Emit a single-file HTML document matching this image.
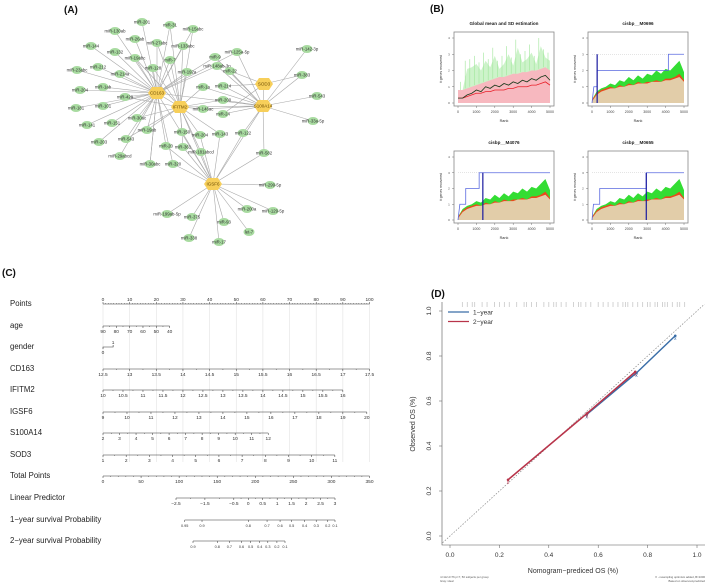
<!DOCTYPE html>
<html><head><meta charset="utf-8"><style>
html,body{margin:0;padding:0;background:#fff;}
svg{display:block;font-family:"Liberation Sans",sans-serif;}
</style></head><body>
<svg id="fig" width="709" height="584" viewBox="0 0 709 584" xmlns="http://www.w3.org/2000/svg">
<g id="pA"></g>
<g id="pB"></g>
<g id="pC"></g>
<g id="pD"></g>
</svg>
<script>
// ===== Panel A data =====
const hubNames=["CD163","IFITM2","SOD3","S100A14","IGSF6"];
const hubX=[157,180,264,263,213];
const hubY=[93,107,84,106,184];
const mirNames=["miR-130ab","miR-201","miR-31","miR-15abc","miR-26ab","miR-27abc","miR-133abc","miR-144","miR-132","miR-19abc","miR-7","miR-9","miR-125a-5p","miR-142-3p","miR-23abc","miR-212","miR-214a","miR-128","miR-192a","miR-148ab-3p","miR-22","miR-383","miR-204","miR-1ab","miR-1a","miR-214","miR-543","miR-429","miR-181","miR-101","miR-200","miR-146ac","miR-24","miR-33a-5p","miR-30ac","miR-141","miR-151","miR-19ab","miR-150","miR-204","miR-143","miR-122","miR-203","miR-543","miR-20","miR-361","miR-181abcd","miR-582","miR-29abcd","miR-30abc","miR-320","miR-299-5p","miR-199ab-5p","miR-375","miR-200a","miR-129-5p","miR-93","let-7","miR-338","miR-17"];
const mirX=[115,142,170,193,135,157,183,91,115,135,170,215,237,307,77,98,120,153,187,217,230,302,80,103,203,223,317,125,76,103,223,203,223,313,137,87,112,147,182,200,220,243,99,126,166,183,201,264,120,150,173,270,167,192,247,273,224,249,189,219];
const mirY=[31,22,25,29,39,43,46,46,52,58,60,57,52,49,70,67,74,68,72,66,71,75,90,87,87,86,96,97,108,106,100,109,114,121,118,125,123,130,132,135,134,133,142,139,146,147,152,153,156,164,164,185,214,217,209,211,222,232,238,242];
const mirHub=[0,0,0,0,0,0,0,0,0,0,0,3,3,3,0,0,0,0,1,3,3,3,0,0,1,2,3,0,0,0,1,1,3,3,0,0,0,1,4,1,4,4,0,0,4,1,4,4,0,0,4,4,4,4,4,4,4,4,4,4];
const mirHub2=[-1,-1,1,1,-1,1,1,-1,-1,1,1,0,0,-1,-1,-1,-1,1,0,0,2,2,-1,-1,3,3,-1,1,-1,-1,3,3,2,-1,1,-1,-1,0,1,4,1,3,-1,1,0,4,1,3,-1,0,0,-1,-1,-1,-1,-1,-1,-1,-1,-1];

// ===== Panel B data =====
const rankTicks=[0,1000,2000,3000,4000,5000];
const bRanks=[0,250,500,750,1000,1250,1500,1750,2000,2250,2500,2750,3000,3250,3500,3750,4000,4250,4500,4750,5000];
const s1Upper=[0.6,0.8,2.1,2.2,2.4,2.0,2.6,2.2,2.9,2.1,2.4,3.0,2.3,3.4,2.5,2.7,3.1,2.4,3.5,2.8,2.6];
const s1Mean=[0.3,0.3,0.5,0.6,0.8,0.7,1.0,0.9,1.1,1.0,1.2,1.1,1.3,1.2,1.4,1.3,1.5,1.4,1.6,1.7,1.4];
const s1Red=[0.3,0.3,0.4,0.5,0.6,0.6,0.7,0.7,0.8,0.8,0.8,0.9,0.9,1.0,1.0,1.0,1.1,1.1,1.2,1.3,1.1];
const s1Pink=[0.8,0.8,0.9,1.0,1.1,1.2,1.3,1.4,1.5,1.6,1.6,1.7,1.8,1.8,1.9,1.9,2.0,2.0,2.1,2.2,2.0];
const gGreen=[0.2,0.7,0.9,1.0,1.2,1.1,1.4,1.3,1.6,1.4,1.7,1.5,1.8,1.7,2.0,1.8,2.1,2.0,2.3,2.6,1.9];
const gRed=[0.2,0.6,0.8,0.9,1.0,0.9,1.1,1.0,1.2,1.1,1.3,1.2,1.3,1.3,1.4,1.3,1.5,1.5,1.6,1.8,1.4];
const gBeige=[0.1,0.5,0.7,0.8,0.9,0.9,1.0,1.0,1.1,1.1,1.2,1.2,1.2,1.3,1.3,1.3,1.4,1.4,1.5,1.6,1.3];
const stepM0696R=[0,100,280,280,4150,4150,5000];
const stepM0696V=[0,1,1,2,2,3,3];
const stepM4076R=[0,100,420,420,1150,1150,1350,1350,5000];
const stepM4076V=[0,1,1,2,2,3,3,3,3];
const stepM0655R=[0,80,420,420,2950,2950,5000];
const stepM0655V=[0,1,1,2,2,3,3];
const markM0696=280, markM4076=1350, markM0655=2950;

// ===== Panel C data =====
const nomoLabels=["Points","age","gender","CD163","IFITM2","IGSF6","S100A14","SOD3","Total Points","Linear Predictor","1\u2212year survival Probability","2\u2212year survival Probability"];
const pointsTicks=[0,10,20,30,40,50,60,70,80,90,100];
const ageTicks=[90,80,70,60,50,40];
const cd163Ticks=[12.5,13,13.5,14,14.5,15,15.5,16,16.5,17,17.5];
const ifitm2Ticks=[10,10.5,11,11.5,12,12.5,13,13.5,14,14.5,15,15.5,16];
const igsf6Ticks=[9,10,11,12,13,14,15,16,17,18,19,20];
const s100Ticks=[2,3,4,5,6,7,8,9,10,11,12];
const sod3Ticks=[1,2,3,4,5,6,7,8,9,10,11];
const totalTicks=[0,50,100,150,200,250,300,350];
const lpTicks=[-2.5,-1.5,-0.5,0,0.5,1,1.5,2,2.5,3];
const lpLabels=["\u22122.5","\u22121.5","\u22120.5","0","0.5","1","1.5","2","2.5","3"];
const surv1Ticks=[0.95,0.9,0.8,0.7,0.6,0.5,0.4,0.3,0.2,0.1];
const surv1Pts=[-2.2,-1.6,0.0,0.65,1.1,1.5,1.95,2.35,2.75,3.0];
const surv2Ticks=[0.9,0.8,0.7,0.6,0.5,0.4,0.3,0.2,0.1];
const surv2Pts=[-2.5,-1.3,-0.7,-0.1,0.35,0.8,1.2,1.65,2.05];

// ===== Panel D data =====
const calTicks=[0,0.2,0.4,0.6,0.8,1.0];
const oneYrPred=[0.553,0.755,0.912];
const oneYrObs=[0.54,0.725,0.89];
const twoYrPred=[0.235,0.555,0.75];
const twoYrObs=[0.25,0.545,0.73];
const rugVals=[0.05,0.07,0.09,0.1,0.13,0.15,0.18,0.2,0.22,0.24,0.27,0.3,0.31,0.33,0.35,0.38,0.4,0.42,0.43,0.45,0.47,0.5,0.52,0.53,0.55,0.57,0.6,0.62,0.64,0.66,0.68,0.7,0.71,0.72,0.74,0.76,0.78,0.8,0.81,0.83,0.84,0.86,0.87,0.88,0.9,0.92,0.93,0.95];

const NS="http://www.w3.org/2000/svg";
function mk(parent,tag,attrs,txt){const e=document.createElementNS(NS,tag);for(const k in attrs)e.setAttribute(k,attrs[k]);if(txt!==undefined)e.textContent=txt;parent.appendChild(e);return e;}

// ---------- Panel A ----------
const pA=document.getElementById('pA');
let t=mk(pA,'text',{x:64,y:13,'font-size':10,'font-weight':'bold',fill:'#111'},'(A)');


const edges=mk(pA,'g',{stroke:'#a8a8a8','stroke-width':0.6});


for(let i=0;i<mirNames.length;i++){
  const h=mirHub[i];
  let l=mk(edges,'line',{x1:mirX[i],y1:mirY[i],x2:hubX[h],y2:hubY[h]});
  
  
  const h2=mirHub2[i];
  if(h2>=0){let l2=mk(edges,'line',{x1:mirX[i],y1:mirY[i],x2:hubX[h2],y2:hubY[h2]});
  
  }
}
[[0,1],[0,3],[1,3],[1,4],[3,4],[2,3],[0,4]].forEach(p=>{let l=mk(edges,'line',{x1:hubX[p[0]],y1:hubY[p[0]],x2:hubX[p[1]],y2:hubY[p[1]]});

});
for(let i=0;i<mirNames.length;i++){
  const g=mk(pA,'g',{});
  
  
  mk(g,'ellipse',{cx:mirX[i],cy:mirY[i],rx:5.5,ry:4,fill:'#a8dba0'});
  mk(g,'text',{x:mirX[i],y:mirY[i]+1.5,'font-size':4.3,'text-anchor':'middle',fill:'#333'},mirNames[i]);
}
for(let i=0;i<hubNames.length;i++){
  const g=mk(pA,'g',{});
  
  
  const x=hubX[i],y=hubY[i];
  mk(g,'polygon',{points:`${x-9},${y} ${x-5},${y-6} ${x+5},${y-6} ${x+9},${y} ${x+5},${y+6} ${x-5},${y+6}`,fill:'#f7cf5a'});
  mk(g,'text',{x:x,y:y+1.6,'font-size':4.5,'text-anchor':'middle',fill:'#6b4a00'},hubNames[i]);
}

// ---------- Panel B ----------
const pB=document.getElementById('pB');
t=mk(pB,'text',{x:430,y:12,'font-size':10,'font-weight':'bold',fill:'#111'},'(B)');


function subplot(name,title,bx,by,bw,bh,kind,stepR,stepV,mark){
  const g=mk(pB,'g',{});
  
  
  const x0=bx+4,x1=bx+bw-4,y0=by+bh-3,y1=by+6;
  const sx=r=>x0+(x1-x0)*r/5000, sy=v=>y0-(y0-y1)*v/4;
  mk(g,'text',{x:bx+bw/2,y:by-7,'font-size':4.6,'font-weight':'bold','text-anchor':'middle',fill:'#222'},title);
  const pts=(arr)=>bRanks.map((r,i)=>sx(r)+','+sy(arr[i])).join(' ');
  const area=(arr,fill)=>mk(g,'polygon',{points:sx(0)+','+sy(0)+' '+pts(arr)+' '+sx(5000)+','+sy(0),fill:fill});
  if(kind===1){
    area(s1Upper,'#cdf3ca');
    bRanks.forEach((r,i)=>{if(i>0){mk(g,'line',{x1:sx(r)-2,y1:sy(s1Pink[i]),x2:sx(r)-2,y2:sy(s1Upper[i]+0.5),stroke:'#9fe69a','stroke-width':0.6});}});
    area(s1Pink,'#f7b8bf');
    mk(g,'polyline',{points:pts(s1Red),fill:'none',stroke:'#e8202a','stroke-width':0.8});
    mk(g,'polyline',{points:pts(s1Mean),fill:'none',stroke:'#1c3a1c','stroke-width':0.8});
  } else {
    area(gGreen,'#33dd33');
    area(gRed,'#e84a1c');
    area(gBeige,'#e2cda9');
    mk(g,'line',{x1:x0,y1:sy(3),x2:x1,y2:sy(3),stroke:'#bbb','stroke-width':0.4,'stroke-dasharray':'1,1'});
    mk(g,'polyline',{points:stepR.map((r,i)=>sx(r)+','+sy(stepV[i])).join(' '),fill:'none',stroke:'#5a6ae0','stroke-width':0.8});
    mk(g,'line',{x1:sx(mark),y1:sy(0),x2:sx(mark),y2:sy(stepV[stepV.length-1]),stroke:'#1a1aa0','stroke-width':1.2});
  }
  mk(g,'rect',{x:bx,y:by,width:bw,height:bh,fill:'none',stroke:'#888','stroke-width':0.8});
  rankTicks.forEach(r=>{mk(g,'line',{x1:sx(r),y1:by+bh,x2:sx(r),y2:by+bh+2,stroke:'#555','stroke-width':0.4});
    mk(g,'text',{x:sx(r),y:by+bh+7,'font-size':3.6,'text-anchor':'middle',fill:'#444'},String(r));});
  [0,1,2,3,4].forEach(v=>{mk(g,'line',{x1:bx,y1:sy(v),x2:bx-2,y2:sy(v),stroke:'#555','stroke-width':0.4});
    mk(g,'text',{x:bx-5,y:sy(v)+1,'font-size':3,'text-anchor':'middle',fill:'#444'},String(v));});
  mk(g,'text',{x:bx+bw/2,y:by+bh+16,'font-size':3.8,'text-anchor':'middle',fill:'#333'},'Rank');
  mk(g,'text',{x:0,y:0,'font-size':3.4,'text-anchor':'middle',fill:'#333',transform:`translate(${bx-12},${by+bh/2}) rotate(-90)`},'# genes recovered');
}
subplot('subplot-global-mean','Global mean and SD estimation',454,32,100,74,1);
subplot('subplot-m0696','cisbp__M0696',588,32,100,74,2,stepM0696R,stepM0696V,markM0696);
subplot('subplot-m4076','cisbp__M4076',454,151,100,72,2,stepM4076R,stepM4076V,markM4076);
subplot('subplot-m0655','cisbp__M0655',588,151,100,72,2,stepM0655R,stepM0655V,markM0655);

// ---------- Panel C ----------
const pC=document.getElementById('pC');
t=mk(pC,'text',{x:2,y:276,'font-size':10,'font-weight':'bold',fill:'#111'},'(C)');


const P0=103,P100=369.5;
const px=p=>P0+(P100-P0)*p/100;
const rowY=[304,326,347,369,390,412,433,455,476,498,520,541];
const grid=mk(pC,'g',{stroke:'#e2e2e2','stroke-width':0.6});


pointsTicks.forEach(p=>mk(grid,'line',{x1:px(p),y1:304,x2:px(p),y2:462}));
nomoLabels.forEach((s,i)=>{let e=mk(pC,'text',{x:10,y:rowY[i]+2,'font-size':7.8,fill:'#222'},s);

});
function scaleRow(name,i,ticks,labels,xf,minor){
  const g=mk(pC,'g',{});
  
  
  const y=rowY[i];
  const xs=ticks.map(xf);
  mk(g,'line',{x1:Math.min(...xs),y1:y,x2:Math.max(...xs),y2:y,stroke:'#333','stroke-width':0.6});
  xs.forEach((x,k)=>{mk(g,'line',{x1:x,y1:y,x2:x,y2:y+ (i===0?-2:2),stroke:'#333','stroke-width':0.5});
    mk(g,'text',{x:x,y:i===0?y-3:y+7,'font-size':(i>=10?3.8:4.8),'text-anchor':'middle',fill:'#333'},labels[k]);});
  if(minor){for(let k=0;k<xs.length-1;k++){for(let m=1;m<minor;m++){const x=xs[k]+(xs[k+1]-xs[k])*m/minor;mk(g,'line',{x1:x,y1:y,x2:x,y2:y+(i===0?-1:1),stroke:'#333','stroke-width':0.4});}}}
}
scaleRow('points-scale',0,pointsTicks,pointsTicks.map(String),px,10);
scaleRow('age-scale',1,ageTicks,ageTicks.map(String),v=>px((90-v)/50*25),2);
{const g=mk(pC,'g',{});


mk(g,'polyline',{points:`${px(0)},${rowY[2]+2} ${px(0)},${rowY[2]} ${px(3.8)},${rowY[2]} ${px(3.8)},${rowY[2]-2}`,fill:'none',stroke:'#333','stroke-width':0.6});
mk(g,'text',{x:px(3.8),y:rowY[2]-3,'font-size':4.8,'text-anchor':'middle',fill:'#333'},'1');
mk(g,'text',{x:px(0),y:rowY[2]+7,'font-size':4.8,'text-anchor':'middle',fill:'#333'},'0');}
scaleRow('cd163-scale',3,cd163Ticks,cd163Ticks.map(String),v=>px((v-12.5)/5*100),2);
scaleRow('ifitm2-scale',4,ifitm2Ticks,ifitm2Ticks.map(String),v=>px((v-10)/6*90),2);
scaleRow('igsf6-scale',5,igsf6Ticks,igsf6Ticks.map(String),v=>px((v-9)/10*90),2);
scaleRow('s100a14-scale',6,s100Ticks,s100Ticks.map(String),v=>px((v-2)/10*62),2);
scaleRow('sod3-scale',7,sod3Ticks,sod3Ticks.map(String),v=>px((v-1)/10*87),2);
scaleRow('total-points-scale',8,totalTicks,totalTicks.map(String),v=>P0+(P100-P0)*v/350,5);
const lpx=v=>176+(335-176)*(v+2.5)/5.5;
scaleRow('linear-predictor-scale',9,lpTicks,lpLabels,lpx,2);
scaleRow('survival-1yr-scale',10,surv1Pts,surv1Ticks.map(String),lpx,0);
scaleRow('survival-2yr-scale',11,surv2Pts,surv2Ticks.map(String),v=>193+(285-193)*(v+2.5)/4.55,0);

// ---------- Panel D ----------
const pD=document.getElementById('pD');
t=mk(pD,'text',{x:431,y:297,'font-size':10,'font-weight':'bold',fill:'#111'},'(D)');


const dx=v=>450+(697-450)*v, dy=v=>536-(536-311)*v;
const ax=mk(pD,'g',{});


mk(ax,'polyline',{points:`442,302 442,545 705,545`,fill:'none',stroke:'#555','stroke-width':0.6});
calTicks.forEach(v=>{
  mk(ax,'line',{x1:dx(v),y1:545,x2:dx(v),y2:548,stroke:'#555','stroke-width':0.5});
  mk(ax,'text',{x:dx(v),y:557,'font-size':6.5,'text-anchor':'middle',fill:'#333'},v.toFixed(1));
  mk(ax,'line',{x1:442,y1:dy(v),x2:439,y2:dy(v),stroke:'#555','stroke-width':0.5});
  mk(ax,'text',{x:0,y:0,'font-size':6.5,'text-anchor':'middle',fill:'#333',transform:`translate(431,${dy(v)}) rotate(-90)`},v.toFixed(1));
});
t=mk(pD,'text',{x:573,y:573,'font-size':7,'text-anchor':'middle',fill:'#333'},'Nomogram\u2212prediced OS (%)');


t=mk(pD,'text',{x:0,y:0,'font-size':7,'text-anchor':'middle',fill:'#333',transform:'translate(415,424) rotate(-90)'},'Observed OS (%)');


mk(pD,'line',{x1:dx(-0.03),y1:dy(-0.03),x2:dx(1.03),y2:dy(1.03),stroke:'#888','stroke-width':0.7,'stroke-dasharray':'1.5,1.5'});
const rug=mk(pD,'g',{stroke:'#c8c8c8','stroke-width':0.8});


rugVals.forEach(v=>mk(rug,'line',{x1:dx(v),y1:302,x2:dx(v),y2:307}));
function series(name,pr,ob,col){
  const g=mk(pD,'g',{});
  
  
  mk(g,'polyline',{points:pr.map((p,i)=>dx(p)+','+dy(ob[i])).join(' '),fill:'none',stroke:col,'stroke-width':1.5});
  pr.forEach((p,i)=>{const x=dx(p),y=dy(ob[i]);
    mk(g,'circle',{cx:x,cy:y,r:1.3,fill:col});
    mk(g,'text',{x:x,y:y+4,'font-size':5,'text-anchor':'middle',fill:col},'x');});
}
series('series-1-year',oneYrPred,oneYrObs,'#3a6ea8');
series('series-2-year',twoYrPred,twoYrObs,'#b8344a');
const lg=mk(pD,'g',{});


mk(lg,'line',{x1:448,y1:312,x2:469,y2:312,stroke:'#3a6ea8','stroke-width':1.2});
mk(lg,'text',{x:473,y:314.5,'font-size':6.5,fill:'#333'},'1\u2212year');
mk(lg,'line',{x1:448,y1:321.5,x2:469,y2:321.5,stroke:'#b8344a','stroke-width':1.2});
mk(lg,'text',{x:473,y:324,'font-size':6.5,fill:'#333'},'2\u2212year');
mk(pD,'text',{x:440,y:578,'font-size':2.8,fill:'#555'},'n=112 d=76 p=7, 50 subjects per group');
mk(pD,'text',{x:440,y:582,'font-size':2.8,fill:'#555'},'Gray: ideal');
mk(pD,'text',{x:705,y:578,'font-size':2.8,'text-anchor':'end',fill:'#555'},'X - resampling optimism added, B=1000');
mk(pD,'text',{x:705,y:582,'font-size':2.8,'text-anchor':'end',fill:'#555'},'Based on observed-predicted');
</script>
</body></html>
